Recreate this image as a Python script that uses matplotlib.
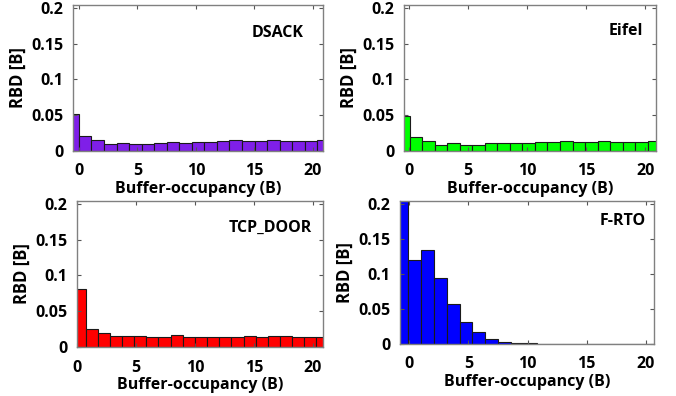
import numpy as np
import matplotlib
matplotlib.use("Agg")
import matplotlib.pyplot as plt

plt.rcParams['font.family'] = ['Open Sans', 'DejaVu Sans']
plt.rcParams['font.weight'] = 'bold'

# Data: bar heights (RBD) per buffer-occupancy bin
dsack = [0.052, 0.0205, 0.015, 0.0095, 0.011, 0.0095, 0.0095, 0.011, 0.012, 0.011,
         0.012, 0.0127, 0.0136, 0.015, 0.0136, 0.0136, 0.015, 0.0136, 0.0136, 0.0136, 0.015]
eifel = [0.049, 0.0195, 0.014, 0.009, 0.0105, 0.009, 0.009, 0.0105, 0.0114, 0.0105,
         0.0114, 0.0123, 0.013, 0.014, 0.013, 0.013, 0.014, 0.013, 0.013, 0.013, 0.014]
tcp_door = [0.081, 0.0255, 0.0195, 0.015, 0.015, 0.015, 0.014, 0.014, 0.0168, 0.014,
            0.014, 0.014, 0.014, 0.014, 0.0155, 0.014, 0.015, 0.015, 0.014, 0.014, 0.014]
frto = [0.23, 0.1205, 0.134, 0.094, 0.057, 0.032, 0.017, 0.007, 0.003, 0.001,
        0.001, 0.0005, 0, 0, 0, 0, 0, 0, 0, 0, 0]

names = ["DSACK", "Eifel", "TCP_DOOR", "F-RTO"]
colors = ["#7F1FE8", "#00FF00", "#FF0000", "#0000FF"]
# first bin left edge and bin width per panel
bin_start = [-1.072, -1.0, -0.30, -1.2]
bin_width = [1.072, 1.06, 1.03, 1.09]
xlims = [(-0.5, 20.85), (-0.42, 20.9), (0.22, 20.86), (-0.79, 20.7)]
xticks = [0, 5, 10, 15, 20]
yticks = [0, 0.05, 0.1, 0.15, 0.2]
ytick_labels = ["0", "0.05", "0.1", "0.15", "0.2"]

W, H = 676, 396
fig = plt.figure(figsize=(W / 100, H / 100), dpi=100)

# axes boxes in pixels: left, right, top, bottom
boxes = [(73, 323, 5, 151), (404, 656, 5, 151), (77, 323, 201, 347), (400, 654, 201, 344)]
# panel-name anchor (right edge, vertical centre) in pixels
name_pos = [(304, 33), (643, 31), (312, 228), (646, 221)]
series = [dsack, eifel, tcp_door, frto]

for i in range(4):
    l, r, t, b = boxes[i]
    ax = fig.add_axes([l / W, 1 - b / H, (r - l) / W, (b - t) / H])
    vals = np.array(series[i])
    w = bin_width[i]
    centers = bin_start[i] + w / 2 + np.arange(len(vals)) * w
    ax.bar(centers, vals, width=w, color=colors[i], edgecolor="#1a1a1a", linewidth=0.8)
    ax.set_xlim(*xlims[i])
    ax.set_ylim(0, 0.204)
    ax.set_xticks(xticks)
    ax.set_yticks(yticks)
    ax.set_yticklabels(ytick_labels)
    ax.tick_params(direction="in", top=True, right=True, length=3, color="#555555",
                   labelsize=11.5)
    ax.tick_params(axis="x", pad=9)
    ax.tick_params(axis="y", pad=7)
    for lab in ax.get_xticklabels() + ax.get_yticklabels():
        lab.set_fontweight("bold")
    for s in ax.spines.values():
        s.set_color("#808080")
        s.set_linewidth(1.0)
    ax.set_xlabel("Buffer-occupancy (B)", fontsize=11.5, fontweight="bold", labelpad=1)
    ax.set_ylabel("RBD [B]", fontsize=12, fontweight="bold", labelpad=3)
    nx, ny = name_pos[i]
    fig.text(nx / W, 1 - ny / H, names[i], ha="right", va="center",
             fontsize=11.5, fontweight="bold")

fig.savefig("out.png", dpi=100)
